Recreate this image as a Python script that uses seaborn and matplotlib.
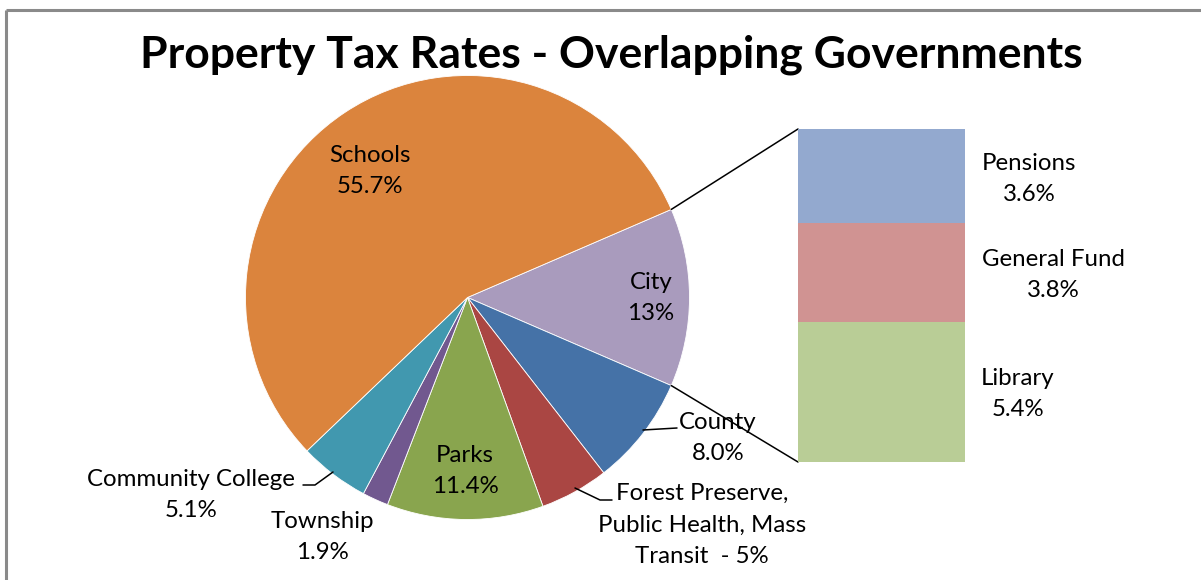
import matplotlib
matplotlib.use("Agg")
import matplotlib.pyplot as plt
import seaborn as sns
import numpy as np

# ---- data ----
title = "Property Tax Rates - Overlapping Governments"

pie_names = ["City", "County", "Forest Preserve,\nPublic Health, Mass\nTransit  - 5%",
             "Parks", "Township", "Community College", "Schools"]
pie_values = [13.0, 8.0, 5.0, 11.4, 1.9, 5.1, 55.7]
pie_value_text = ["13%", "8.0%", "", "11.4%", "1.9%", "5.1%", "55.7%"]
pie_colors = ["#A99BBD", "#4572A7", "#AA4643", "#89A54E", "#71588F", "#4198AF", "#DB843D"]

city_names = ["Library", "General Fund", "Pensions"]
city_values = [5.4, 3.8, 3.6]
city_value_text = ["5.4%", "3.8%", "3.6%"]
city_colors = ["#B9CD96", "#D09392", "#93A9CF"]

# ---- style ----
sns.set_theme(style="white")
plt.rcParams["font.family"] = ["Lato", "DejaVu Sans"]

W, H = 1201, 580
fig = plt.figure(figsize=(W / 100, H / 100), dpi=100)
fig.patch.set_facecolor("white")
ax = fig.add_axes([0, 0, 1, 1])


def Y(py):
    return H - py


cx, cy, r = 467.5, Y(297.5), 222
total = sum(pie_values)
start = 360 * pie_values[0] / total / 2

wedges, _ = ax.pie(pie_values, colors=sns.color_palette(pie_colors), startangle=start,
                   counterclock=False, center=(cx, cy), radius=r,
                   wedgeprops=dict(edgecolor="white", linewidth=0.6))
ax.set_xlim(0, W)
ax.set_ylim(0, H)
ax.set_aspect("auto")
ax.axis("off")

# frame lines (top and left)
ax.plot([6, W], [Y(9.5), Y(9.5)], color="#8a8a8a", lw=2.2, solid_capstyle="butt")
ax.plot([6, 6], [Y(9.5), 0], color="#8a8a8a", lw=2.2, solid_capstyle="butt")

ax.text(611.5, Y(55), title, ha="center", va="center", fontsize=32,
        fontweight="bold", color="black")

fs = 17.3
ls = 1.6
# labels for pie slices
label_pos = {
    0: (651, 298),
    1: (718, 438),
    2: (702, 525),
    3: (465, 471),
    4: (322, 537),
    5: (191, 495),
    6: (370, 171),
}
for i, (x, y) in label_pos.items():
    txt = pie_names[i] + ("\n" + pie_value_text[i] if pie_value_text[i] else "")
    ax.text(x, Y(y), txt, ha="center", va="center", fontsize=fs, color="black",
            linespacing=ls, multialignment="center")

# leader lines
leaders = [
    [(643, 430), (677, 428)],
    [(575, 488), (600, 500), (612, 500)],
    [(333, 472), (315, 485), (303, 485)],
]
for pts in leaders:
    xs, ys = zip(*pts)
    ax.plot(xs, [Y(v) for v in ys], color="black", lw=1.1)

# bar of pie for the city breakdown
bx0, by_top, by_bot, bw = 798, 129, 462, 167
bax = fig.add_axes([bx0 / W, Y(by_bot) / H, bw / W, (by_bot - by_top) / H])
bottoms = np.concatenate([[0], np.cumsum(city_values)[:-1]])
bax.bar([0] * len(city_values), city_values, bottom=bottoms, width=1.0,
        color=city_colors, linewidth=0)
bax.set_xlim(-0.5, 0.5)
bax.set_ylim(0, sum(city_values))
bax.axis("off")

# connector lines from the City slice to the bar
a1 = np.deg2rad(start)
a2 = np.deg2rad(start - 360 * pie_values[0] / total)
ax.plot([cx + r * np.cos(a1), bx0], [cy + r * np.sin(a1), Y(by_top)], color="black", lw=1.1)
ax.plot([cx + r * np.cos(a2), bx0], [cy + r * np.sin(a2), Y(by_bot)], color="black", lw=1.1)

city_label_pos = [(1018, 394), (1053.5, 275), (1029.5, 179)]
for (x, y), n, t in zip(city_label_pos, city_names, city_value_text):
    ax.text(x, Y(y), n + "\n" + t, ha="center", va="center", fontsize=fs,
            color="black", linespacing=ls)

fig.savefig("out.png", dpi=100, facecolor="white")
